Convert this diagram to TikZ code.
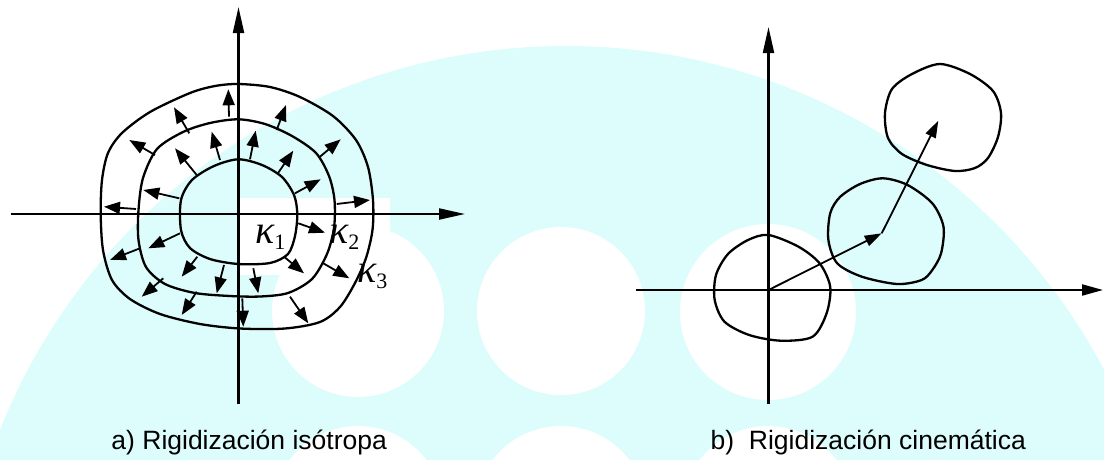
\documentclass[tikz,border=0pt]{standalone}
\usepackage{fontspec}
\setmainfont{Liberation Sans}
\newfontfamily\tms{Liberation Serif}
\usetikzlibrary{arrows.meta}
\definecolor{wm}{RGB}{221,252,252}
\newcommand\klab[1]{{\tms\fontsize{40}{40}\selectfont\itshape κ}\raisebox{-6pt}{\tms\fontsize{22}{22}\selectfont #1}}
\begin{document}
\begin{tikzpicture}[x=1pt,y=-1pt,
  curve/.style={line width=2.3pt, line join=round},
  axisline/.style={line width=2.1pt, -{Triangle[length=26pt,width=11pt]}},
  flux/.style={line width=1.8pt, -{Triangle[length=16pt,width=12pt]}},
  vecarrow/.style={line width=1.8pt, -{Triangle[length=17pt,width=11pt]}},
  klabel/.style={inner sep=0pt, anchor=base west},
  captext/.style={inner sep=0pt, anchor=base, font=\fontsize{26.5}{30}\selectfont}]

\useasboundingbox (0,0) rectangle (1104,459);

% watermark background
\begin{scope}
  \clip (0,0) rectangle (1104,459);
  \fill[wm] (566,655) circle[radius=609pt];
  \fill[white] (358,311) circle[radius=86pt];
  \fill[white] (561,311) circle[radius=84pt];
  \fill[white] (768,312) circle[radius=88pt];
  \fill[white] (358,512) circle[radius=86pt];
  \fill[white] (561,512) circle[radius=86pt];
  \fill[white] (768,512) circle[radius=86pt];
  \fill[white] (237,198) rectangle (390,275);
\end{scope}

% ---------- a) isotropic hardening ----------
\coordinate (aO) at (238.5,214);
\coordinate (aL) at (10.5,214);
\coordinate (aR) at (465,214);
\coordinate (aB) at (238.5,404);
\coordinate (aT) at (238.5,7);
\draw[axisline] (aL) -- (aR);
\draw[axisline] (aB) -- (aT);

% kappa 1
\draw[curve] plot[smooth cycle, tension=0.5] coordinates {
 (238.3,159.3) (262,165) (282,177) (294,195) (297.3,214) (295,236) (288,254)
 (270,263) (238.3,264) (210,259) (190,248) (181,230) (181,200) (192,180) (214,166)};
% kappa 2
\draw[curve] plot[smooth cycle, tension=0.5] coordinates {
 (238.3,119.3) (265,124) (292,136) (316,153) (329,176) (334.5,200) (334,228)
 (327,254) (312,279) (288,293) (260,296.5) (230,296) (195,293) (165,284)
 (146,267) (138.5,240) (138.5,210) (143,178) (157,149) (183,132) (210,123)};
% kappa 3
\draw[curve] plot[smooth cycle, tension=0.5] coordinates {
 (238.3,84) (270,87) (300,97) (333,116) (356,140) (368,167) (373,200)
 (372.5,230) (366,258) (355,283) (340,307) (320,322) (285,328.5) (240,328.5)
 (200,324) (160,314) (130,299) (112,280) (103,250) (100.7,214) (102,180)
 (108,153) (122,133) (150,112) (190,93) (215,86)};

% inner ring arrows
\draw[flux] (250,159.3) -- (255.7,130.7);
\draw[flux] (278.3,172.7) -- (293.3,150.7);
\draw[flux] (295,193.3) -- (320.7,179.3);
\draw[flux] (298.3,223.3) -- (325,232.7);
\draw[flux] (284,256.7) -- (304,273.3);
\draw[flux] (253.3,268.3) -- (258.3,293.3);
\draw[flux] (224,265) -- (216.7,293.3);
\draw[flux] (197.3,256.7) -- (181.7,276.7);
\draw[flux] (180,233.3) -- (148.3,248.3);
\draw[flux] (179.3,198.3) -- (143.3,190);
\draw[flux] (196.7,175) -- (175,148.3);
\draw[flux] (220,160) -- (211.7,131.7);
% outer ring arrows
\draw[flux] (229,116.7) -- (228.3,89.3);
\draw[flux] (276.7,130) -- (286,105);
\draw[flux] (320,156.7) -- (340.7,139.3);
\draw[flux] (336.7,204) -- (370,200);
\draw[flux] (323.3,263.3) -- (349.3,278.3);
\draw[flux] (290,296.7) -- (308.3,323.3);
\draw[flux] (242.3,298.3) -- (243.3,326.7);
\draw[flux] (196.7,291.7) -- (181.7,315);
\draw[flux] (163.3,278.3) -- (141.7,296.7);
\draw[flux] (140,248.3) -- (110,260);
\draw[flux] (136,209) -- (104,206.7);
\draw[flux] (155,155) -- (129.3,140);
\draw[flux] (189.3,133.3) -- (174,107.3);

\node[klabel] (k1) at (255,243) {\klab{1}};
\node[klabel] (k2) at (329,243) {\klab{2}};
\node[klabel] (k3) at (357,282) {\klab{3}};

\node[captext] (capa) at (249.2,449) {a) Rigidización isótropa};

% ---------- b) kinematic hardening ----------
\coordinate (bO) at (768.5,290);
\coordinate (bL) at (636,290);
\coordinate (bR) at (1103,290);
\coordinate (bB) at (768.5,404);
\coordinate (bT) at (768.5,27);
\draw[axisline, -{Triangle[length=21pt,width=11pt]}] (bL) -- (bR);
\draw[axisline] (bB) -- (bT);

\draw[curve] plot[smooth cycle, tension=0.5] coordinates {
 (768.5,235) (798.5,246.7) (819.6,263.3) (830.2,286.7) (826.6,313.3)
 (812.6,336.7) (780.9,340.7) (749.2,335) (724.5,321.7) (714.7,300)
 (716,275) (728,254) (748,240)};
\draw[curve] plot[smooth cycle, tension=0.5] coordinates {
 (883,178.3) (907.6,185) (932.3,203.3) (943.5,226.7) (941.1,253.3)
 (932.3,270) (921.7,280) (897.1,284) (861.9,276.7) (837.2,263.3)
 (828.4,240) (830.2,213.3) (840,197) (860,184)};
\draw[curve] plot[smooth cycle, tension=0.5] coordinates {
 (940,64) (970,74) (993,91) (1001,113) (998,137) (988,158) (975,168)
 (955,171) (927,165) (902,154) (888,138) (885,113) (892,89) (912,74)};

\coordinate (c2) at (881.7,233.3);
\coordinate (c3) at (938.3,120.7);
\draw[vecarrow] (bO) -- (c2);
\draw[vecarrow] (c2) -- (c3);

\node[captext] (capb) at (868.3,449) {b)\ \ Rigidización cinemática};
\end{tikzpicture}
\end{document}
